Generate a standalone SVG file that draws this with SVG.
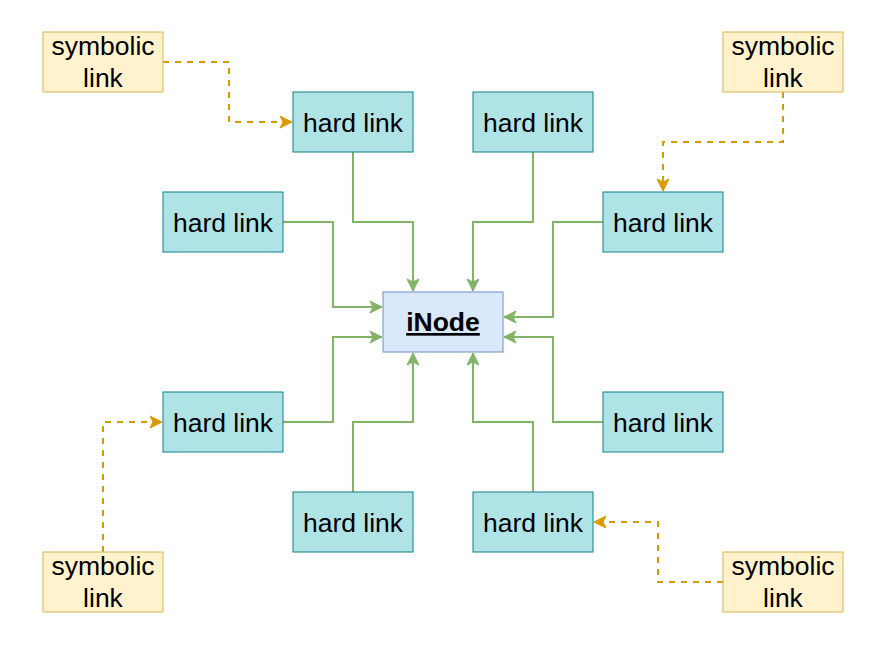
<svg xmlns="http://www.w3.org/2000/svg" width="886" height="645" viewBox="0 0 886 645">
<defs>
<style>
.hard{fill:#b0e3e6;stroke:#0e8088;stroke-width:1}
.sym{fill:#fff2cc;stroke:#d6b656;stroke-width:1}
.inode{fill:#dae8fc;stroke:#6c8ebf;stroke-width:1}
.t{font-family:"Liberation Sans",Arial,sans-serif;font-size:26.5px;fill:#000;text-anchor:middle}
.b{font-weight:bold;text-decoration:underline}
.g{fill:none;stroke:#82b366;stroke-width:2;marker-end:url(#ag)}
.d{fill:none;stroke:#d79b00;stroke-width:2;stroke-dasharray:6 6;marker-end:url(#ad)}
</style>
<marker id="ag" markerUnits="userSpaceOnUse" viewBox="-13 -7 14 14" refX="0" refY="0" markerWidth="14" markerHeight="14" orient="auto">
<path d="M0,0 L-12,-6 L-9,0 L-12,6 Z" fill="#82b366" stroke="#82b366" stroke-width="1"/>
</marker>
<marker id="ad" markerUnits="userSpaceOnUse" viewBox="-13 -7 14 14" refX="0" refY="0" markerWidth="14" markerHeight="14" orient="auto">
<path d="M0,0 L-12,-6 L-9,0 L-12,6 Z" fill="#d79b00" stroke="#d79b00" stroke-width="1"/>
</marker>
</defs>
<rect width="886" height="645" fill="#fff"/>
<g id="connectors">
<path class="g" d="M353,152 V222 H413 V291"/>
<path class="g" d="M533,152 V222 H473 V291"/>
<path class="g" d="M283,222 H333 V307 H382"/>
<path class="g" d="M603,222 H553 V317 H504"/>
<path class="g" d="M283,422 H333 V337 H382"/>
<path class="g" d="M603,422 H553 V337 H504"/>
<path class="g" d="M353,492 V422 H413 V353"/>
<path class="g" d="M533,492 V422 H473 V353"/>
<path class="d" d="M163,62 H229 V122 H292"/>
<path class="d" d="M783,92 V142 H663 V191"/>
<path class="d" d="M103,552 V422 H162"/>
<path class="d" d="M723,582 H658 V522 H594"/>
</g>
<g id="inode"><rect class="inode" x="383" y="292" width="120" height="60"/><text class="t b" x="443" y="331">iNode</text></g>
<g id="hard1"><rect class="hard" x="293" y="92" width="120" height="60"/><text class="t" x="353" y="132">hard link</text></g>
<g id="hard2"><rect class="hard" x="473" y="92" width="120" height="60"/><text class="t" x="533" y="132">hard link</text></g>
<g id="hard3"><rect class="hard" x="163" y="192" width="120" height="60"/><text class="t" x="223" y="232">hard link</text></g>
<g id="hard4"><rect class="hard" x="603" y="192" width="120" height="60"/><text class="t" x="663" y="232">hard link</text></g>
<g id="hard5"><rect class="hard" x="163" y="392" width="120" height="60"/><text class="t" x="223" y="432">hard link</text></g>
<g id="hard6"><rect class="hard" x="603" y="392" width="120" height="60"/><text class="t" x="663" y="432">hard link</text></g>
<g id="hard7"><rect class="hard" x="293" y="492" width="120" height="60"/><text class="t" x="353" y="532">hard link</text></g>
<g id="hard8"><rect class="hard" x="473" y="492" width="120" height="60"/><text class="t" x="533" y="532">hard link</text></g>
<g id="sym1"><rect class="sym" x="43" y="32" width="120" height="60"/><text class="t" x="103" y="55">symbolic</text><text class="t" x="103" y="86.5">link</text></g>
<g id="sym2"><rect class="sym" x="723" y="32" width="120" height="60"/><text class="t" x="783" y="55">symbolic</text><text class="t" x="783" y="86.5">link</text></g>
<g id="sym3"><rect class="sym" x="43" y="552" width="120" height="60"/><text class="t" x="103" y="575">symbolic</text><text class="t" x="103" y="606.5">link</text></g>
<g id="sym4"><rect class="sym" x="723" y="552" width="120" height="60"/><text class="t" x="783" y="575">symbolic</text><text class="t" x="783" y="606.5">link</text></g>
</svg>
